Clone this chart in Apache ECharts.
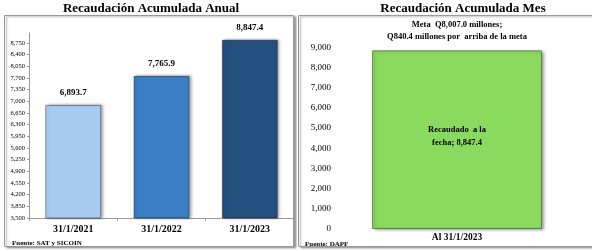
<!DOCTYPE html>
<html>
<head>
<meta charset="utf-8">
<style>
  html, body { margin: 0; padding: 0; background: #fff; }
  #chart { width: 592px; height: 251px; }
</style>
<script src="https://cdn.jsdelivr.net/npm/echarts@6/dist/echarts.min.js"></script>
</head>
<body>
<div id="chart"></div>
<script>
// datos del panel anual
const fechas = ["31/1/2021", "31/1/2022", "31/1/2023"];
const recaudadoAnual = [6893.7, 7765.9, 8847.4];
const coloresAnual = ["#A8CCF0", "#3A7FC6", "#24507F"];

// datos del panel mensual
const mesCategorias = ["Al 31/1/2023"];
const recaudadoMes = [8847.4];
const metaTexto = "Meta  Q8,007.0 millones;\nQ840.4 millones por  arriba de la meta";

const serif = "'Liberation Serif', 'DejaVu Serif', serif";
const fmt = (v, d) =>
  v.toLocaleString("en-US", { minimumFractionDigits: d, maximumFractionDigits: d });

const chart = echarts.init(document.getElementById("chart"));

const option = {
  backgroundColor: "#fff",
  animation: false,
  textStyle: { fontFamily: serif },
  graphic: [
    {
      type: "rect",
      shape: { x: 4.5, y: 15.5, width: 289, height: 231 },
      style: {
        fill: "#fff", stroke: "#9a9a9a", lineWidth: 1,
        shadowColor: "rgba(0,0,0,0.35)", shadowBlur: 2, shadowOffsetX: 2, shadowOffsetY: 1
      },
      z: -10
    },
    {
      type: "rect",
      shape: { x: 298.5, y: 15.5, width: 300, height: 231 },
      style: {
        fill: "#fff", stroke: "#9a9a9a", lineWidth: 1,
        shadowColor: "rgba(0,0,0,0.35)", shadowBlur: 2, shadowOffsetX: 2, shadowOffsetY: 1
      },
      z: -10
    },
    {
      type: "text", left: 12, top: 240,
      style: { text: "Fuente: SAT y SICOIN", font: "bold 7px " + serif, fill: "#000" }
    },
    {
      type: "text", left: 305, top: 241,
      style: { text: "Fuente: DAPF", font: "bold 7px " + serif, fill: "#000" }
    }
  ],
  title: [
    {
      text: "Recaudación Acumulada Anual",
      left: 151, top: 2, padding: 0, textAlign: "center",
      textStyle: { fontFamily: serif, fontWeight: "bold", fontSize: 13, color: "#000" }
    },
    {
      text: "Recaudación Acumulada Mes",
      left: 463, top: 2, padding: 0, textAlign: "center",
      textStyle: { fontFamily: serif, fontWeight: "bold", fontSize: 13, color: "#000" }
    },
    {
      text: metaTexto,
      left: 457, top: 19, padding: 0, textAlign: "center",
      textStyle: {
        fontFamily: serif, fontWeight: "bold", fontSize: 8.5, color: "#000", lineHeight: 12
      }
    }
  ],
  grid: [
    { left: 29, top: 33, width: 265, height: 185 },
    { left: 337, top: 27, width: 240, height: 202 }
  ],
  xAxis: [
    {
      type: "category", gridIndex: 0, data: fechas,
      axisLine: { lineStyle: { color: "#999" } },
      axisTick: { show: true, length: 3, lineStyle: { color: "#999" } },
      axisLabel: {
        color: "#000", fontFamily: serif, fontWeight: "bold", fontSize: 10, margin: 6
      }
    },
    {
      type: "category", gridIndex: 1, data: mesCategorias,
      axisLine: { show: false },
      axisTick: { show: false },
      axisLabel: {
        color: "#000", fontFamily: serif, fontWeight: "bold", fontSize: 9.5, margin: 4
      }
    }
  ],
  yAxis: [
    {
      type: "value", gridIndex: 0, min: 3500, max: 9050, interval: 350,
      axisLine: { show: true, lineStyle: { color: "#999" } },
      axisTick: { show: true, length: 2, lineStyle: { color: "#999" } },
      splitLine: { show: false },
      axisLabel: {
        color: "#000", fontFamily: serif, fontSize: 6.5, margin: 4,
        showMaxLabel: false,
        formatter: v => fmt(v, 0)
      }
    },
    {
      type: "value", gridIndex: 1, min: 0, max: 10000, interval: 1000,
      axisLine: { show: false },
      axisTick: { show: false },
      splitLine: { show: false },
      axisLabel: {
        color: "#000", fontFamily: serif, fontSize: 9, margin: 6,
        showMaxLabel: false,
        formatter: v => fmt(v, 0)
      }
    }
  ],
  series: [
    {
      type: "bar", xAxisIndex: 0, yAxisIndex: 0,
      barWidth: 56,
      data: recaudadoAnual.map((v, i) => ({
        value: v,
        itemStyle: { color: coloresAnual[i] }
      })),
      itemStyle: {
        borderColor: "rgba(0,0,0,0.35)", borderWidth: 1,
        shadowColor: "rgba(0,0,0,0.4)", shadowBlur: 3, shadowOffsetX: 2, shadowOffsetY: 0
      },
      label: {
        show: true, position: "top", distance: 8,
        color: "#000", fontFamily: serif, fontWeight: "bold", fontSize: 9,
        formatter: p => fmt(p.value, 1)
      }
    },
    {
      type: "bar", xAxisIndex: 1, yAxisIndex: 1,
      barWidth: 170,
      data: recaudadoMes,
      itemStyle: {
        color: "#89DA5E",
        borderColor: "rgba(60,90,40,0.6)", borderWidth: 1,
        shadowColor: "rgba(0,0,0,0.4)", shadowBlur: 3, shadowOffsetX: 2, shadowOffsetY: 1
      },
      label: {
        show: true, position: "inside", offset: [0, -3],
        color: "#000", fontFamily: serif, fontWeight: "bold", fontSize: 8.5, lineHeight: 13,
        formatter: p => "Recaudado  a la\nfecha; " + fmt(p.value, 1)
      }
    }
  ]
};

chart.setOption(option);
</script>
</body>
</html>
